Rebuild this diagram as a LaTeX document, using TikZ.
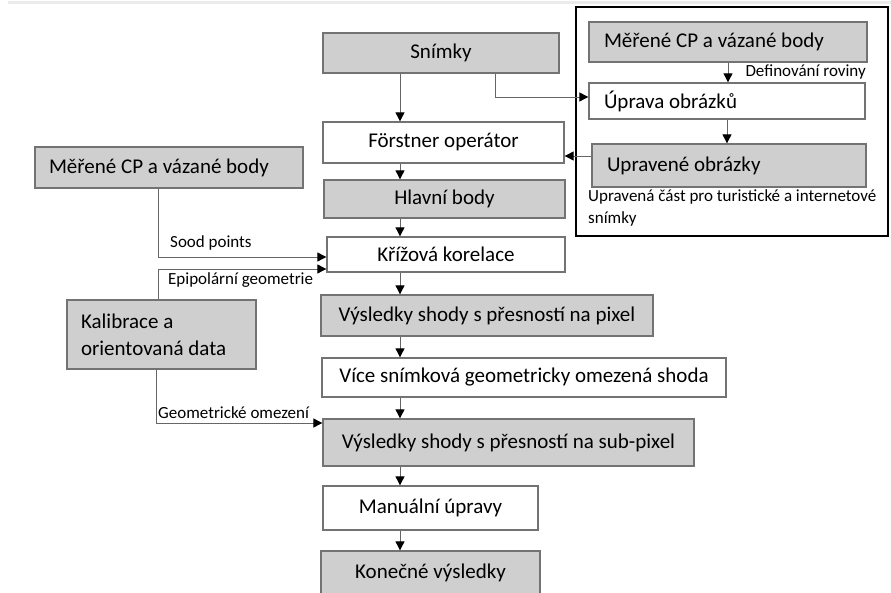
\documentclass[tikz,border=0pt]{standalone}
\usepackage{fontspec}
\setmainfont{Carlito}
\usetikzlibrary{positioning,arrows.meta}

\begin{document}
\begin{tikzpicture}[x=1pt, y=-1pt,
    box/.style={draw=black!55, line width=1.3pt, inner sep=0pt, font=\fontsize{21}{27}\selectfont},
    graybox/.style={box, fill=black!19},
    whitebox/.style={box, fill=white},
    lbl/.style={font=\fontsize{17}{22}\selectfont, inner sep=0pt},
    conn/.style={draw=black!60, line width=0.9pt, -{Triangle[length=9pt, width=9pt, color=black]}}]
        \clip (0,0) rectangle (891,593);
        \draw[black!8, line width=3pt] (8,2.5) -- (891,2.5);

        % Node definitions
        \node (A) [graybox, minimum width=236pt, minimum height=40pt] at (441,53) {Snímky};
        \node (B) [whitebox, minimum width=241pt, minimum height=41pt] at (443.5,142.5) {Förstner operátor};
        \node (C) [graybox, minimum width=241pt, minimum height=38pt] at (444.5,199) {Hlavní body};
        \node (D) [whitebox, minimum width=238pt, minimum height=35pt] at (446,254.5) {Křížová korelace};
        \node (E) [graybox, minimum width=332pt, minimum height=41pt] at (487,315.5) {Výsledky shody s přesností na pixel};
        \node (F) [whitebox, minimum width=404pt, minimum height=39pt] at (524,377.5) {Více snímková geometricky omezená shoda};
        \node (G) [graybox, minimum width=371pt, minimum height=47pt] at (508.5,442.5) {Výsledky shody s přesností na sub-pixel};
        \node (H) [whitebox, minimum width=215pt, minimum height=44pt] at (430.5,508) {Manuální úpravy};
        \node (I) [graybox, minimum width=219pt, minimum height=44pt] at (430.5,573) {Konečné výsledky};

        \node (K) [graybox, text width=240pt, inner xsep=14pt, minimum height=41pt, align=flush left] at (169,167.5) {Měřené CP a vázané body};
        \node (J) [graybox, text width=161pt, inner xsep=14pt, minimum height=69pt, align=flush left] at (161.5,334.5) {Kalibrace a\\orientovaná data};

        % Right part
        \draw[line width=2pt] (576,7) rectangle (888,236);
        \node (L) [graybox, text width=248pt, inner xsep=15pt, minimum height=40pt, align=flush left] at (728,42) {Měřené CP a vázané body};
        \node (M) [whitebox, text width=246pt, inner xsep=15pt, minimum height=36pt, align=flush left] at (727,101) {Úprava obrázků};
        \node (N) [graybox, text width=244pt, inner xsep=15pt, minimum height=43pt, align=flush left] at (729,165.5) {Upravené obrázky};

        % Labels
        \node (l1) [lbl, anchor=east] at (866,72) {Definování roviny};
        \node (l2) [lbl, anchor=west, align=flush left] at (588,208) {Upravená část pro turistické a internetové\\snímky};
        \node (l3) [lbl, anchor=west] at (170,243) {Sood points};
        \node (l4) [lbl, anchor=west] at (168,280) {Epipolární geometrie};
        \node (l5) [lbl, anchor=west] at (158,413) {Geometrické omezení};

        % Connecting lines
        \coordinate (S) at (400,0);
        \draw[conn] (A.south -| S) -- (B.north -| S);
        \draw[conn] (B.south -| S) -- (C.north -| S);
        \draw[conn] (C.south -| S) -- (D.north -| S);
        \draw[conn] (D.south -| S) -- (E.north -| S);
        \draw[conn] (E.south -| S) -- (F.north -| S);
        \draw[conn] (F.south -| S) -- (G.north -| S);
        \draw[conn] (G.south -| S) -- (H.north -| S);
        \draw[conn] (H.south -| S) -- (I.north -| S);

        \coordinate (S2) at (495,97);
        \draw[conn] (A.south -| S2) |- (M.west |- S2);
        \draw[conn] (L.south) -- (M.north -| L.south);
        \draw[conn] (M.south) -- (N.north -| M.south);
        \coordinate (S6) at (592,156);
        \draw[conn] (N.west |- S6) -- (B.east |- S6);

        \coordinate (S3) at (158,257);
        \draw[conn] (K.south -| S3) |- (D.west |- S3);
        \coordinate (S4) at (158,269);
        \draw[conn] (J.north -| S4) |- (D.west |- S4);
        \coordinate (S5) at (156,423);
        \draw[conn] (J.south -| S5) |- (G.west |- S5);
    \end{tikzpicture}
\end{document}
